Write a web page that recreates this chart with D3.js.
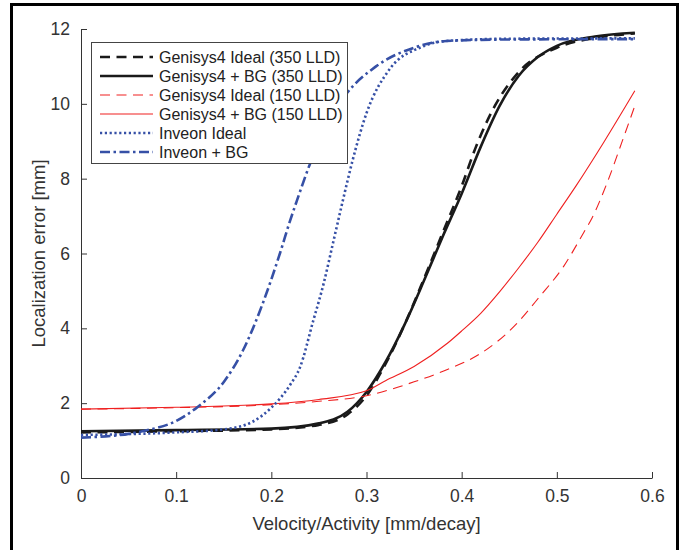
<!DOCTYPE html>
<html>
<head>
<meta charset="utf-8">
<script src="https://cdn.jsdelivr.net/npm/d3@7"></script>
<style>
	body { margin: 0; background: #fff; }
	svg { display: block; font-family: "Liberation Sans", Arial, Helvetica, sans-serif; }
</style>
</head>
<body>
<div id="chart"></div>
<script>
// values (x = velocity/activity, y = localization error)
const xTicks = [0, 0.1, 0.2, 0.3, 0.4, 0.5, 0.6];
const yTicks = [0, 2, 4, 6, 8, 10, 12];

const g350IdealX = [0, 0.1, 0.2, 0.25, 0.28, 0.3, 0.32, 0.34, 0.36, 0.38, 0.4, 0.415, 0.435, 0.46, 0.5, 0.54, 0.582];
const g350IdealY = [1.22, 1.25, 1.3, 1.42, 1.7, 2.2, 3.05, 4.1, 5.3, 6.55, 7.8, 8.85, 9.95, 10.85, 11.5, 11.76, 11.88];

const g350BgX = [0, 0.1, 0.2, 0.25, 0.28, 0.3, 0.32, 0.34, 0.36, 0.38, 0.4, 0.42, 0.44, 0.46, 0.48, 0.5, 0.54, 0.582];
const g350BgY = [1.25, 1.28, 1.32, 1.46, 1.77, 2.3, 3.1, 4.1, 5.25, 6.45, 7.6, 8.85, 9.95, 10.75, 11.25, 11.55, 11.8, 11.9];

const g150IdealX = [0, 0.1, 0.2, 0.25, 0.3, 0.35, 0.385, 0.42, 0.455, 0.482, 0.507, 0.528, 0.537, 0.553, 0.568, 0.582];
const g150IdealY = [1.84, 1.88, 1.96, 2.05, 2.2, 2.57, 2.9, 3.33, 4.05, 4.85, 5.65, 6.55, 6.95, 7.9, 8.95, 9.95];

const g150BgX = [0, 0.1, 0.2, 0.25, 0.3, 0.32, 0.35, 0.385, 0.4, 0.42, 0.44, 0.46, 0.48, 0.5, 0.52, 0.55, 0.582];
const g150BgY = [1.84, 1.89, 1.98, 2.1, 2.33, 2.6, 2.98, 3.6, 3.93, 4.4, 4.98, 5.62, 6.3, 7.05, 7.8, 9.0, 10.35];

const invIdealX = [0, 0.1, 0.15, 0.18, 0.2, 0.21, 0.22, 0.23, 0.244, 0.255, 0.265, 0.275, 0.285, 0.3, 0.325, 0.356, 0.384, 0.45, 0.582];
const invIdealY = [1.15, 1.22, 1.3, 1.5, 1.88, 2.15, 2.5, 2.95, 4.2, 5.2, 6.3, 7.4, 8.45, 9.75, 10.95, 11.5, 11.68, 11.74, 11.75];

const invBgX = [0, 0.05, 0.07, 0.098, 0.1226, 0.151, 0.17, 0.19, 0.209, 0.22, 0.2267, 0.2407, 0.26, 0.277, 0.31, 0.35, 0.384, 0.45, 0.582];
const invBgY = [1.08, 1.18, 1.28, 1.5, 1.9, 2.6, 3.4, 4.6, 6.0, 6.9, 7.4, 8.4, 9.5, 10.2, 11.0, 11.5, 11.68, 11.72, 11.73];

const seriesNames = ["Genisys4 Ideal (350 LLD)", "Genisys4 + BG (350 LLD)", "Genisys4 Ideal (150 LLD)",
	"Genisys4 + BG (150 LLD)", "Inveon Ideal", "Inveon + BG"];

const black = "#1a1a1a", red = "#ef2020", blue = "#3650a6";

const series = [
	{ name: seriesNames[0], x: g350IdealX, y: g350IdealY, color: black, width: 2.6, dash: "10,6.5" },
	{ name: seriesNames[1], x: g350BgX, y: g350BgY, color: black, width: 2.6, dash: null },
	{ name: seriesNames[2], x: g150IdealX, y: g150IdealY, color: red, width: 1.1, dash: "10,6.5" },
	{ name: seriesNames[3], x: g150BgX, y: g150BgY, color: red, width: 1.1, dash: null },
	{ name: seriesNames[4], x: invIdealX, y: invIdealY, color: blue, width: 2.6, dash: "2.2,2.6" },
	{ name: seriesNames[5], x: invBgX, y: invBgY, color: blue, width: 2.6, dash: "10,3.5,2.5,3.5" }
];

const width = 683, height = 550;
const margin = { left: 81, right: 683 - 652, top: 29, bottom: 550 - 478 };

const svg = d3.select("#chart").append("svg")
	.attr("width", width)
	.attr("height", height);

// outer frame (runs past the bottom of the picture)
svg.append("rect")
	.attr("x", 11.5).attr("y", 4.5)
	.attr("width", 666).attr("height", 580)
	.attr("fill", "none")
	.attr("stroke", "#000")
	.attr("stroke-width", 3);

const x = d3.scaleLinear().domain([0, 0.6]).range([margin.left, width - margin.right]);
const y = d3.scaleLinear().domain([0, 12]).range([height - margin.bottom, margin.top]);

const axisColor = "#333";

// x axis, ticks pointing inward
const gx = svg.append("g")
	.attr("transform", `translate(0,${height - margin.bottom})`)
	.call(d3.axisBottom(x).tickValues(xTicks).tickSizeInner(-6).tickSizeOuter(0).tickPadding(12)
		.tickFormat(d => d === 0 ? "0" : d3.format(".1f")(d)));
gx.select(".domain").attr("stroke", axisColor);
gx.selectAll(".tick line").attr("stroke", axisColor);
gx.selectAll(".tick text").attr("fill", axisColor).style("font-size", "17.5px");

const gy = svg.append("g")
	.attr("transform", `translate(${margin.left},0)`)
	.call(d3.axisLeft(y).tickValues(yTicks).tickSizeInner(-6).tickSizeOuter(0).tickPadding(11));
gy.select(".domain").attr("stroke", axisColor);
gy.selectAll(".tick line").attr("stroke", axisColor);
gy.selectAll(".tick text").attr("fill", axisColor).style("font-size", "17.5px");

svg.append("text")
	.attr("x", (x(0) + x(0.6)) / 2)
	.attr("y", 530)
	.attr("text-anchor", "middle")
	.attr("fill", axisColor)
	.style("font-size", "18.5px")
	.text("Velocity/Activity [mm/decay]");

svg.append("text")
	.attr("transform", `translate(45,${(y(0) + y(12)) / 2}) rotate(-90)`)
	.attr("text-anchor", "middle")
	.attr("fill", axisColor)
	.style("font-size", "18.5px")
	.text("Localization error [mm]");

// curves
const line = d3.line()
	.x(d => x(d[0]))
	.y(d => y(d[1]))
	.curve(d3.curveMonotoneX);

const plot = svg.append("g");
series.forEach(s =>
{
	const pts = s.x.map((v, i) => [v, s.y[i]]);
	plot.append("path")
		.datum(pts)
		.attr("d", line)
		.attr("fill", "none")
		.attr("stroke", s.color)
		.attr("stroke-width", s.width)
		.attr("stroke-dasharray", s.dash);
});

// legend
const legend = svg.append("g").attr("transform", "translate(91,42)");
legend.append("rect")
	.attr("x", 0.5).attr("y", 0.5)
	.attr("width", 256).attr("height", 121)
	.attr("fill", "#fff")
	.attr("stroke", "#444")
	.attr("stroke-width", 1);

series.forEach((s, i) =>
{
	const ly = 15 + i * 19;
	legend.append("line")
		.attr("x1", 9).attr("x2", 62)
		.attr("y1", ly).attr("y2", ly)
		.attr("stroke", s.color)
		.attr("stroke-width", s.width)
		.attr("stroke-dasharray", s.dash);
	legend.append("text")
		.attr("x", 68).attr("y", ly)
		.attr("dy", "0.35em")
		.attr("fill", "#222")
		.style("font-size", "16px")
		.text(s.name);
});
</script>
</body>
</html>
